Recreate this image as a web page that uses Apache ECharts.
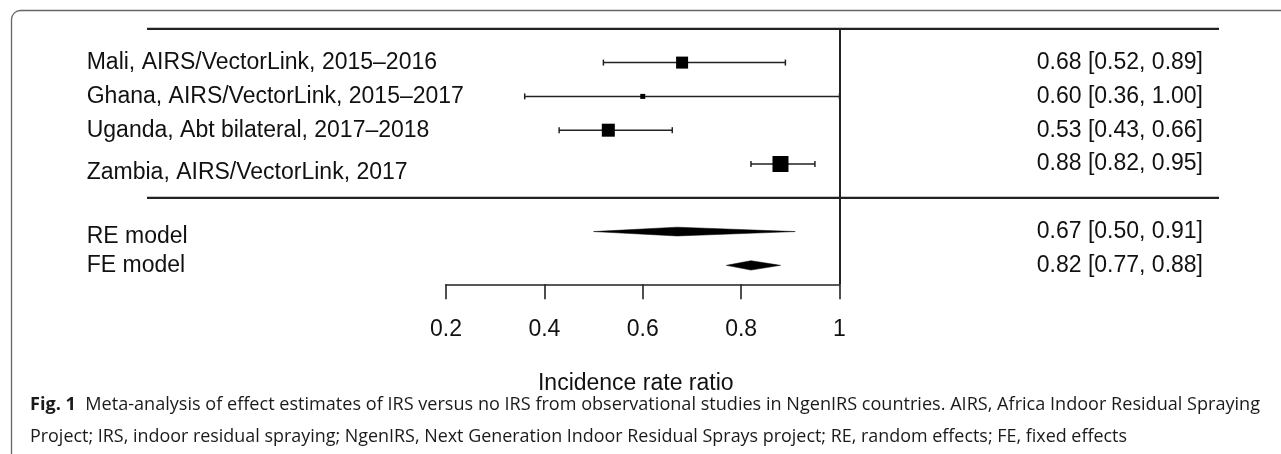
<!DOCTYPE html>
<html><head><meta charset="utf-8">
<script src="https://cdn.jsdelivr.net/npm/echarts@6/dist/echarts.min.js"></script>
<style>html,body{margin:0;padding:0;background:#fff}#c{width:1281px;height:454px}</style>
</head><body><div id="c"></div>
<script>
// ---------------- DATA ----------------
const studyLabels = ['Mali, AIRS/VectorLink, 2015–2016', 'Ghana, AIRS/VectorLink, 2015–2017', 'Uganda, Abt bilateral, 2017–2018', 'Zambia, AIRS/VectorLink, 2017'];
const studyEst = [0.68, 0.60, 0.53, 0.88];
const studyLo  = [0.52, 0.36, 0.43, 0.82];
const studyHi  = [0.89, 1.00, 0.66, 0.95];
const modelLabels = ['RE model', 'FE model'];
const modelEst = [0.67, 0.82];
const modelLo  = [0.50, 0.77];
const modelHi  = [0.91, 0.88];
const xTicks = [0.2, 0.4, 0.6, 0.8, 1];
const xAxisTitle = 'Incidence rate ratio';
const captionBold = 'Fig. 1';
const captionLine1 = 'Meta-analysis of effect estimates of IRS versus no IRS from observational studies in NgenIRS countries. AIRS, Africa Indoor Residual Spraying';
const captionLine2 = 'Project; IRS, indoor residual spraying; NgenIRS, Next Generation Indoor Residual Sprays project; RE, random effects; FE, fixed effects';

// ---------------- LAYOUT / STYLE ----------------
const studyRows = [1, 2, 3, 4];
const modelRows = [6, 7];
const sepRow = 5, topRow = 0, axisRow = 7.56;
const leftNudge = [0, 0, 0, 0.27, 0.15, 0];
const boxSize = [12, 5, 13, 16];
const diamondHalfH = [4.4, 4.7];
const FONT = '"Liberation Sans", Arial, Helvetica, sans-serif';
const FS = 23;
const INK = '#111';
const LINE = '#222';

const allLabels = studyLabels.concat(modelLabels);
const allRows = studyRows.concat(modelRows);
const rightText = studyEst.map((e, i) => [e, studyLo[i], studyHi[i]])
  .concat(modelEst.map((e, i) => [e, modelLo[i], modelHi[i]]))
  .map(a => `${a[0].toFixed(2)} [${a[1].toFixed(2)}, ${a[2].toFixed(2)}]`);
const leftValues = allRows.map((r, i) => r + leftNudge[i]);

const chart = echarts.init(document.getElementById('c'), null, {renderer: 'canvas'});

const studyData = studyEst.map((e, i) => [e, studyLo[i], studyHi[i], studyRows[i]]);
const modelData = modelEst.map((e, i) => [e, modelLo[i], modelHi[i], modelRows[i]]);

function findIdx(vals, v) {
  let best = 0, d = 1e9;
  vals.forEach((x, i) => { if (Math.abs(x - v) < d) { d = Math.abs(x - v); best = i; } });
  return best;
}

const option = {
  animation: false,
  backgroundColor: '#fff',
  grid: {left: 446, right: 1281 - 839.5, top: 28.8, bottom: 454 - 284.3, containLabel: false},
  xAxis: {
    type: 'value', position: 'bottom', min: xTicks[0], max: xTicks[xTicks.length - 1], interval: 0.2,
    axisLine: {show: true, onZero: false, lineStyle: {color: LINE, width: 1.6}},
    axisTick: {show: true, inside: false, length: 15, lineStyle: {color: LINE, width: 1.6}},
    axisLabel: {show: true, margin: 34, fontSize: FS, fontFamily: FONT, color: INK,
      formatter: v => { const i = findIdx(xTicks, v); return String(xTicks[i]); }},
    splitLine: {show: false},
    name: xAxisTitle, nameLocation: 'middle', nameGap: 88,
    nameTextStyle: {fontSize: FS, fontFamily: FONT, color: INK, padding: [0, 14, 0, 0]}
  },
  yAxis: [{
    type: 'value', inverse: true, min: topRow, max: axisRow,
    axisLine: {show: false, onZero: false}, axisTick: {show: false}, splitLine: {show: false},
    axisLabel: {show: true, customValues: leftValues, align: 'left', margin: 446 - 86.7,
      fontSize: FS, fontFamily: FONT, color: INK,
      formatter: v => allLabels[findIdx(leftValues, v)]}
  }, {
    type: 'value', inverse: true, min: topRow, max: axisRow, position: 'right',
    axisLine: {show: false, onZero: false}, axisTick: {show: false}, splitLine: {show: false},
    axisLabel: {show: true, customValues: allRows, align: 'right', margin: 1203 - 839.5,
      fontSize: FS, fontFamily: FONT, color: INK,
      formatter: v => rightText[findIdx(allRows, v)]}
  }],
  series: [{
    type: 'custom', name: 'studies', data: studyData, clip: false,
    encode: {x: [0, 1, 2], y: 3},
    renderItem: (params, api) => {
      const row = api.value(3);
      const pE = api.coord([api.value(0), row]);
      const pL = api.coord([api.value(1), row]);
      const pH = api.coord([api.value(2), row]);
      const y = pE[1];
      const s = boxSize[params.dataIndex];
      const st = {stroke: LINE, lineWidth: 1.5};
      return {type: 'group', children: [
        {type: 'line', shape: {x1: pL[0], y1: y, x2: pH[0], y2: y}, style: st},
        {type: 'line', shape: {x1: pL[0], y1: y - 3, x2: pL[0], y2: y + 3}, style: st},
        {type: 'line', shape: {x1: pH[0], y1: y - 3, x2: pH[0], y2: y + 3}, style: st},
        {type: 'rect', shape: {x: pE[0] - s / 2, y: y - s / 2, width: s, height: s}, style: {fill: '#000'}}
      ]};
    },
    markLine: {
      silent: true, symbol: 'none', label: {show: false},
      lineStyle: {type: 'solid', color: LINE, width: 2},
      data: [{xAxis: 1}]
    }
  }, {
    type: 'custom', name: 'models', data: modelData, clip: false,
    encode: {x: [0, 1, 2], y: 3},
    renderItem: (params, api) => {
      const row = api.value(3);
      const pE = api.coord([api.value(0), row]);
      const pL = api.coord([api.value(1), row]);
      const pH = api.coord([api.value(2), row]);
      const y = pE[1];
      const h = diamondHalfH[params.dataIndex];
      return {type: 'polygon', shape: {points: [[pL[0], y], [pE[0], y - h], [pH[0], y], [pE[0], y + h]]},
        style: {fill: '#000', stroke: '#000', lineWidth: 0.5}};
    }
  }]
};
chart.setOption(option);

// decorations: separator lines, frame, caption
const yTop = chart.convertToPixel({yAxisIndex: 0}, topRow);
const ySep = chart.convertToPixel({yAxisIndex: 0}, sepRow);
const capFont = '"Open Sans", "Noto Sans", sans-serif';
const capFS = 18.5;
const ctx = document.createElement('canvas').getContext('2d');
ctx.font = `bold ${capFS}px ${capFont}`;
const wBold = ctx.measureText(captionBold + '  ').width;
ctx.font = `${capFS}px ${capFont}`;
const w1 = wBold + ctx.measureText(captionLine1).width;
const w2 = ctx.measureText(captionLine2).width;
const sx1 = (1260 - 30) / w1;
const sx2 = (1127 - 30) / w2;

chart.setOption({
  graphic: [
    {type: 'rect', silent: true, shape: {x: 11.5, y: 10.5, width: 1320, height: 520, r: 9},
      style: {fill: 'none', stroke: '#666', lineWidth: 1.3}},
    {type: 'line', silent: true, shape: {x1: 147, y1: yTop, x2: 1219, y2: yTop}, style: {stroke: LINE, lineWidth: 2.2}},
    {type: 'line', silent: true, shape: {x1: 147, y1: ySep, x2: 1219, y2: ySep}, style: {stroke: LINE, lineWidth: 2.2}},
    {type: 'text', silent: true, x: 30, y: 405, scaleX: sx1,
      style: {text: '{b|' + captionBold + '}  ' + captionLine1, fontSize: capFS, fontFamily: capFont, fill: '#1a1a1a',
        verticalAlign: 'middle', align: 'left',
        rich: {b: {fontWeight: 'bold', fontSize: capFS, fontFamily: capFont, fill: '#1a1a1a'}}}},
    {type: 'text', silent: true, x: 30, y: 436.7, scaleX: sx2,
      style: {text: captionLine2, fontSize: capFS, fontFamily: capFont, fill: '#1a1a1a',
        verticalAlign: 'middle', align: 'left'}}
  ]
});
</script>
</body></html>
